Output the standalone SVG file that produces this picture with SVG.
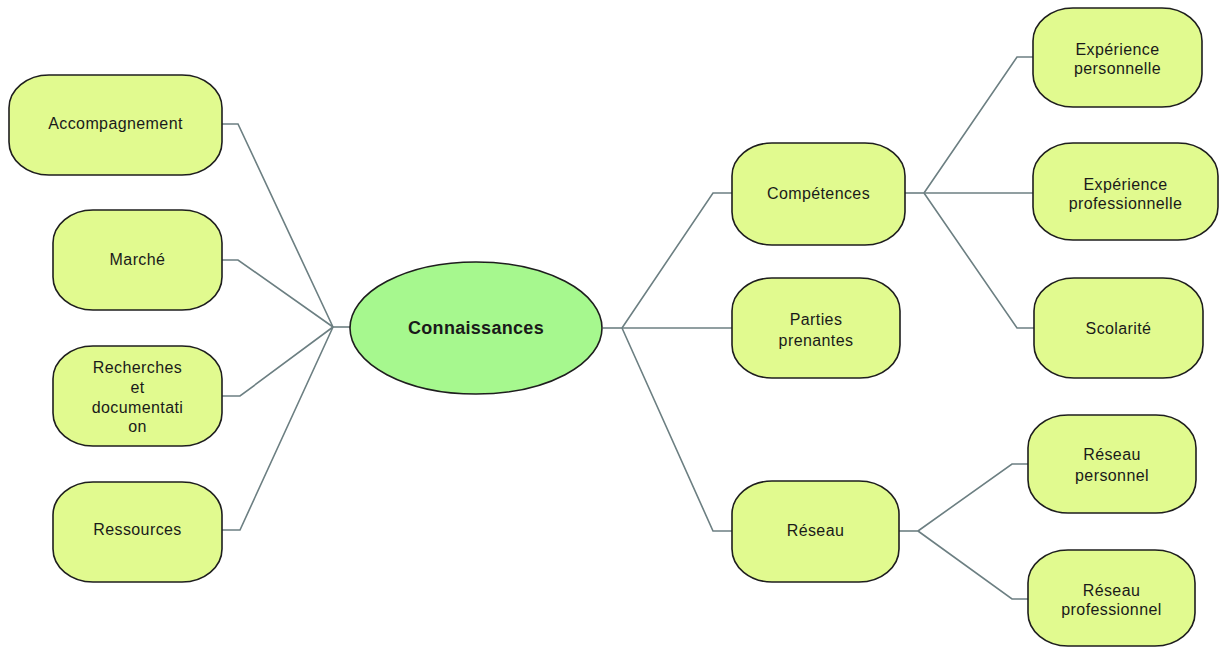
<svg xmlns="http://www.w3.org/2000/svg" width="1220" height="648" viewBox="0 0 1220 648">
<style>
.n rect{fill:#e1fa8f;stroke:#1e1e1e;stroke-width:1.6}
.t{font-family:"Liberation Sans",Arial,sans-serif;font-size:16px;letter-spacing:0.4px;fill:#1a1a1a;text-anchor:middle}
.c path{fill:none;stroke:#6c7f82;stroke-width:1.6}
.stub{stroke:#4d5d60;stroke-width:3}
</style>
<rect width="1220" height="648" fill="#ffffff"/>
<g class="c" id="connectors">
<path d="M222 124 H238 L333 327"/>
<path d="M222 260 H238 L333 327"/>
<path d="M222 396 H240 L333 327"/>
<path d="M222 530 H240 L333 327"/>
<path class="stub" d="M333 327 H350"/>
<path class="stub" d="M603 328 H622"/>
<path d="M622 328 L713 193 H732"/>
<path d="M622 328 H732"/>
<path d="M622 328 L713 531 H732"/>
<path class="stub" d="M905 193 H924"/>
<path d="M924 193 L1017 57 H1033"/>
<path d="M924 193 H1033"/>
<path d="M924 193 L1017 328 H1034"/>
<path class="stub" d="M899 531 H918"/>
<path d="M918 531 L1012 464 H1028"/>
<path d="M918 531 L1012 599 H1028"/>
</g>
<g id="connaissances">
<ellipse cx="476" cy="328" rx="126" ry="66" fill="#a6f88e" stroke="#1e1e1e" stroke-width="1.6"/>
<text x="476" y="334" style="font-family:'Liberation Sans',Arial,sans-serif;font-size:18px;font-weight:bold;letter-spacing:0.3px;fill:#1a1a1a;text-anchor:middle">Connaissances</text>
</g>
<g class="n" id="accompagnement">
<rect x="9" y="75" width="213" height="100" rx="40" ry="33"/>
<text class="t" x="115.5" y="129">Accompagnement</text>
</g>
<g class="n" id="marche">
<rect x="53" y="210" width="169" height="100" rx="40" ry="33"/>
<text class="t" x="137.5" y="265">Marché</text>
</g>
<g class="n" id="recherches">
<rect x="53" y="346" width="169" height="100" rx="40" ry="33"/>
<text class="t" x="137.5" y="373">Recherches</text>
<text class="t" x="137.5" y="393">et</text>
<text class="t" x="137.5" y="413">documentati</text>
<text class="t" x="137.5" y="432">on</text>
</g>
<g class="n" id="ressources">
<rect x="53" y="482" width="169" height="100" rx="40" ry="33"/>
<text class="t" x="137.5" y="535">Ressources</text>
</g>
<g class="n" id="competences">
<rect x="732" y="143" width="173" height="102" rx="40" ry="33"/>
<text class="t" x="818.5" y="199">Compétences</text>
</g>
<g class="n" id="parties">
<rect x="732" y="278" width="168" height="100" rx="40" ry="33"/>
<text class="t" x="816" y="325">Parties</text>
<text class="t" x="816" y="346">prenantes</text>
</g>
<g class="n" id="reseau">
<rect x="732" y="481" width="167" height="101" rx="40" ry="33"/>
<text class="t" x="815.5" y="536">Réseau</text>
</g>
<g class="n" id="exp-perso">
<rect x="1033" y="8" width="169" height="99" rx="40" ry="33"/>
<text class="t" x="1117.5" y="55">Expérience</text>
<text class="t" x="1117.5" y="74">personnelle</text>
</g>
<g class="n" id="exp-pro">
<rect x="1033" y="143" width="185" height="97" rx="40" ry="33"/>
<text class="t" x="1125.5" y="190">Expérience</text>
<text class="t" x="1125.5" y="209">professionnelle</text>
</g>
<g class="n" id="scolarite">
<rect x="1034" y="278" width="169" height="100" rx="40" ry="33"/>
<text class="t" x="1118.5" y="334">Scolarité</text>
</g>
<g class="n" id="reseau-perso">
<rect x="1028" y="415" width="168" height="98" rx="40" ry="33"/>
<text class="t" x="1112" y="460">Réseau</text>
<text class="t" x="1112" y="481">personnel</text>
</g>
<g class="n" id="reseau-pro">
<rect x="1028" y="550" width="167" height="96" rx="40" ry="33"/>
<text class="t" x="1111.5" y="596">Réseau</text>
<text class="t" x="1111.5" y="615">professionnel</text>
</g>
</svg>
